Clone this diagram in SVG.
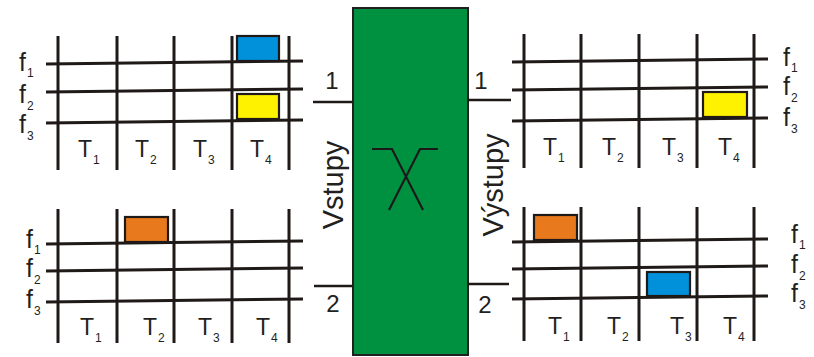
<svg xmlns="http://www.w3.org/2000/svg" width="814" height="357" viewBox="0 0 814 357">
  <style>
    .grid { stroke: #1f1a17; stroke-width: 3; fill: none; }
    .slot { stroke: #1f1a17; stroke-width: 2.2; }
    .blue { fill: #0091da; }
    .yellow { fill: #fff200; }
    .orange { fill: #e8791d; }
    .lbl { font-family: "Liberation Sans", Arial, sans-serif; font-size: 23px; fill: #231f20; }
    .fl { font-size: 25px; }
    .sub { font-size: 12px; }
    .port { stroke: #1f1a17; stroke-width: 2.5; }
    .big { font-family: "Liberation Sans", Arial, sans-serif; font-size: 29px; fill: #231f20; text-anchor: middle; }
    .num { font-family: "Liberation Sans", Arial, sans-serif; font-size: 24px; fill: #231f20; text-anchor: middle; }
  </style>

  <!-- input 1: frequency/time grid, top left -->
  <g id="input-1">
    <path class="grid" d="M58 36V170M117 36V170M174 36V170M232 36V170M289 36V170"/>
    <path class="grid" d="M46 64L303 61M46 92L303 89M46 123L303 120"/>
    <rect class="slot blue" x="237" y="36" width="42" height="25"/>
    <rect class="slot yellow" x="237" y="94" width="42" height="25"/>
    <text class="lbl fl" x="19" y="71">f<tspan class="sub" dx="1" dy="6">1</tspan></text>
    <text class="lbl fl" x="19" y="103">f<tspan class="sub" dx="1" dy="7">2</tspan></text>
    <text class="lbl fl" x="19" y="133">f<tspan class="sub" dx="1" dy="7">3</tspan></text>
    <text class="lbl" x="78" y="157">T<tspan class="sub" dx="1" dy="7">1</tspan></text>
    <text class="lbl" x="135" y="157">T<tspan class="sub" dx="1" dy="7">2</tspan></text>
    <text class="lbl" x="193" y="157">T<tspan class="sub" dx="1" dy="7">3</tspan></text>
    <text class="lbl" x="250" y="157">T<tspan class="sub" dx="1" dy="7">4</tspan></text>
  </g>

  <!-- input 2: frequency/time grid, bottom left -->
  <g id="input-2">
    <path class="grid" d="M58 209V343M117 209V343M174 209V343M232 209V343M289 209V343"/>
    <path class="grid" d="M46 244L303 241M46 271L303 268M46 302L303 299"/>
    <rect class="slot orange" x="125" y="217" width="43" height="25"/>
    <text class="lbl fl" x="26" y="248">f<tspan class="sub" dx="1" dy="6">1</tspan></text>
    <text class="lbl fl" x="26" y="277">f<tspan class="sub" dx="1" dy="7">2</tspan></text>
    <text class="lbl fl" x="26" y="308">f<tspan class="sub" dx="1" dy="7">3</tspan></text>
    <text class="lbl" x="80" y="335">T<tspan class="sub" dx="1" dy="7">1</tspan></text>
    <text class="lbl" x="143" y="335">T<tspan class="sub" dx="1" dy="7">2</tspan></text>
    <text class="lbl" x="198" y="335">T<tspan class="sub" dx="1" dy="7">3</tspan></text>
    <text class="lbl" x="256" y="335">T<tspan class="sub" dx="1" dy="7">4</tspan></text>
  </g>

  <!-- output 1: frequency/time grid, top right -->
  <g id="output-1">
    <path class="grid" d="M524 34V168M581 34V168M639 34V168M697 34V168M754 34V168"/>
    <path class="grid" d="M512 62L768 59M512 90L768 87M512 121L768 118"/>
    <rect class="slot yellow" x="703" y="92" width="44" height="25"/>
    <text class="lbl fl" x="783" y="66">f<tspan class="sub" dx="1" dy="6">1</tspan></text>
    <text class="lbl fl" x="783" y="95">f<tspan class="sub" dx="1" dy="7">2</tspan></text>
    <text class="lbl fl" x="783" y="126">f<tspan class="sub" dx="1" dy="7">3</tspan></text>
    <text class="lbl" x="543" y="155">T<tspan class="sub" dx="1" dy="7">1</tspan></text>
    <text class="lbl" x="602" y="155">T<tspan class="sub" dx="1" dy="7">2</tspan></text>
    <text class="lbl" x="662" y="155">T<tspan class="sub" dx="1" dy="7">3</tspan></text>
    <text class="lbl" x="718" y="155">T<tspan class="sub" dx="1" dy="7">4</tspan></text>
  </g>

  <!-- output 2: frequency/time grid, bottom right -->
  <g id="output-2">
    <path class="grid" d="M524 207V341M581 207V341M639 207V341M697 207V341M754 207V341"/>
    <path class="grid" d="M512 242L768 239M512 269L768 266M512 299L768 296"/>
    <rect class="slot orange" x="534" y="215" width="43" height="25"/>
    <rect class="slot blue" x="647" y="272" width="43" height="24"/>
    <text class="lbl fl" x="791" y="243">f<tspan class="sub" dx="1" dy="6">1</tspan></text>
    <text class="lbl fl" x="791" y="273">f<tspan class="sub" dx="1" dy="7">2</tspan></text>
    <text class="lbl fl" x="791" y="302">f<tspan class="sub" dx="1" dy="7">3</tspan></text>
    <text class="lbl" x="548" y="334">T<tspan class="sub" dx="1" dy="7">1</tspan></text>
    <text class="lbl" x="607" y="334">T<tspan class="sub" dx="1" dy="7">2</tspan></text>
    <text class="lbl" x="670" y="334">T<tspan class="sub" dx="1" dy="7">3</tspan></text>
    <text class="lbl" x="723" y="334">T<tspan class="sub" dx="1" dy="7">4</tspan></text>
  </g>

  <!-- switching block -->
  <g id="switch">
    <rect x="353" y="8" width="115" height="347" fill="#009140" stroke="#231f20" stroke-width="2"/>
    <path d="M372 149H392L423 210M438 149H420L389 210" fill="none" stroke="#1a1a1a" stroke-width="2.2"/>
  </g>

  <!-- port connectors -->
  <g id="connectors">
    <line class="port" x1="313" y1="102" x2="353" y2="102"/>
    <line class="port" x1="314" y1="286" x2="353" y2="286"/>
    <line class="port" x1="468" y1="100" x2="511" y2="100"/>
    <line class="port" x1="468" y1="284" x2="509" y2="284"/>
  </g>

  <!-- port labels -->
  <g id="port-labels">
    <text class="num" x="332" y="89">1</text>
    <text class="num" x="333" y="312">2</text>
    <text class="num" x="481" y="89">1</text>
    <text class="num" x="485" y="313">2</text>
    <text class="big" transform="translate(343 185) rotate(-90)">Vstupy</text>
    <text class="big" transform="translate(503 185) rotate(-90)">Výstupy</text>
  </g>
</svg>
